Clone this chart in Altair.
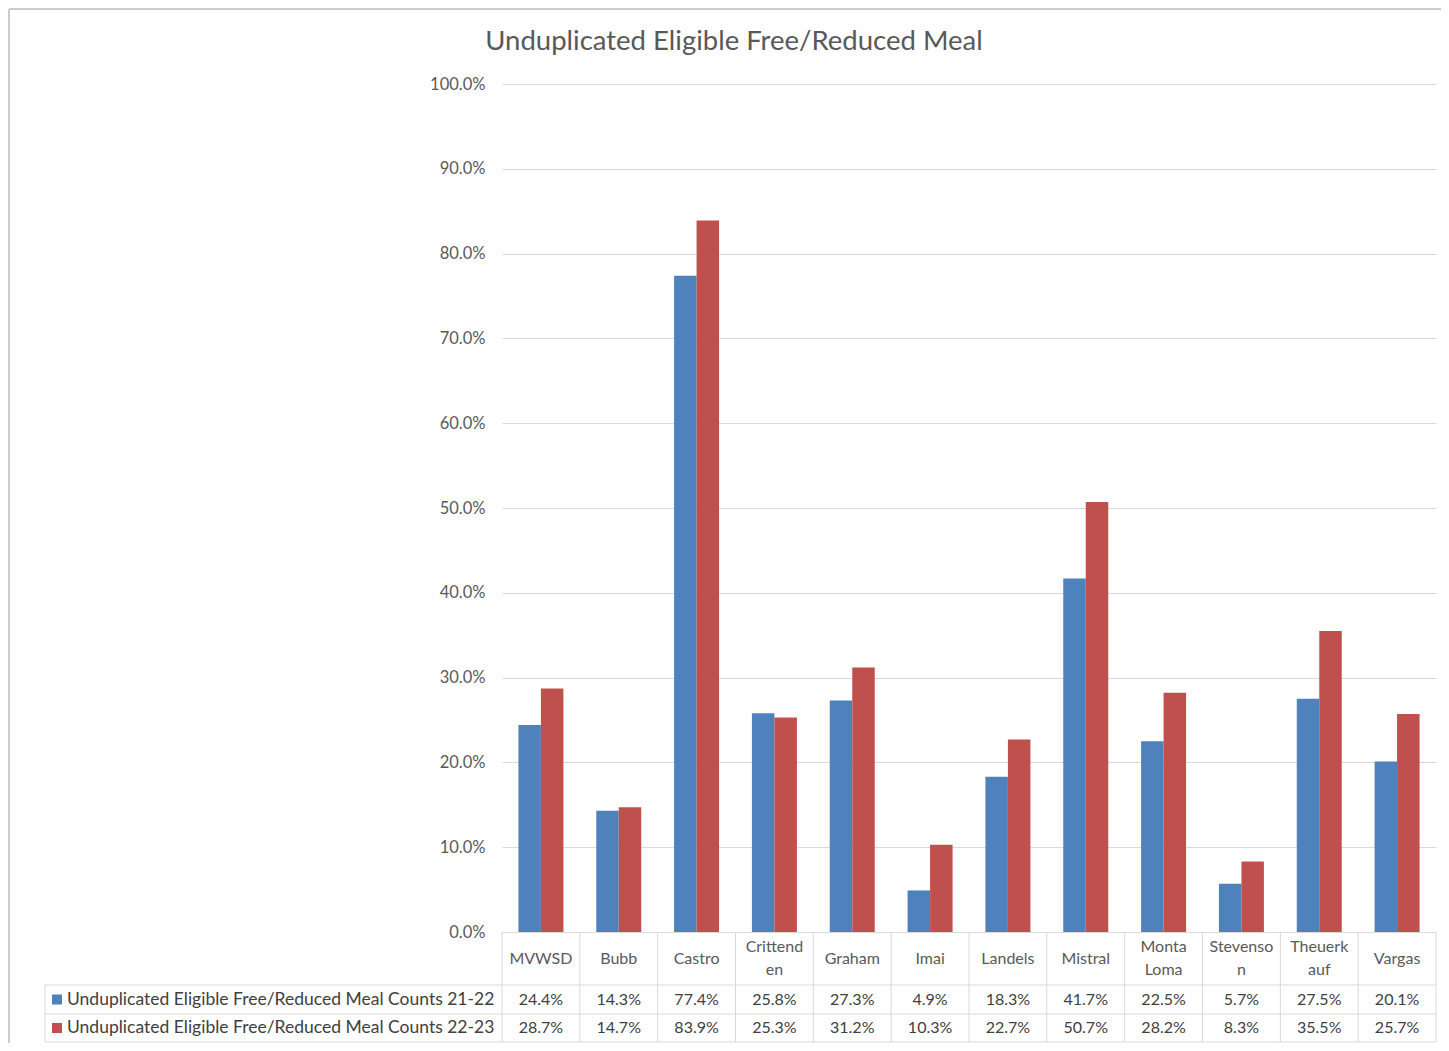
import altair as alt
import pandas as pd

categories = ["MVWSD", "Bubb", "Castro", "Crittenden", "Graham", "Imai",
              "Landels", "Mistral", "Monta Loma", "Stevenson", "Theuerkauf", "Vargas"]
header_labels = ["MVWSD", "Bubb", "Castro", "Crittend\nen", "Graham", "Imai",
                 "Landels", "Mistral", "Monta\nLoma", "Stevenso\nn", "Theuerk\nauf", "Vargas"]
series_names = ["Unduplicated Eligible Free/Reduced Meal Counts 21-22",
                "Unduplicated Eligible Free/Reduced Meal Counts 22-23"]
values_2122 = [24.4, 14.3, 77.4, 25.8, 27.3, 4.9, 18.3, 41.7, 22.5, 5.7, 27.5, 20.1]
values_2223 = [28.7, 14.7, 83.9, 25.3, 31.2, 10.3, 22.7, 50.7, 28.2, 8.3, 35.5, 25.7]
colors = ["#4F81BD", "#C0504D"]
y_ticks = [0, 0.1, 0.2, 0.3, 0.4, 0.5, 0.6, 0.7, 0.8, 0.9, 1.0]
title_text = "Unduplicated Eligible Free/Reduced Meal"

rows = []
for s, vals in zip(series_names, [values_2122, values_2223]):
    for c, v in zip(categories, vals):
        rows.append({"category": c, "series": s, "value": v / 100})
df = pd.DataFrame(rows)
hdr = pd.DataFrame({"category": categories, "header": header_labels,
                    "multi": ["\n" in h for h in header_labels]})

FONT = "Lato"
W, H = 934, 848
GRID = "#D9D9D9"
TXT = "#595959"
ROW_TOP = [H, 901, 930, 958]  # header / row1 / row2 boundaries (plot px)
LH = 23

xenc = alt.X("category:N", sort=categories,
             scale=alt.Scale(paddingInner=0, paddingOuter=0),
             axis=alt.Axis(labels=False, ticks=False, title=None, grid=False,
                           domain=True, domainColor=GRID, domainWidth=1))

base = alt.Chart(df)

bars = base.mark_bar().encode(
    x=xenc,
    xOffset=alt.XOffset("series:N", sort=series_names,
                        scale=alt.Scale(paddingOuter=0.73, paddingInner=0)),
    y=alt.Y("value:Q", scale=alt.Scale(domain=[0, 1]),
            axis=alt.Axis(values=y_ticks, format=".1%", title=None, domain=False,
                          ticks=False, labelPadding=17, labelFontSize=16.5,
                          labelColor=TXT, labelFont=FONT, gridColor=GRID)),
    color=alt.Color("series:N", sort=series_names,
                    scale=alt.Scale(domain=series_names, range=colors), legend=None),
)

layers = [bars]

# value rows
for i, s in enumerate(series_names):
    ymid = (ROW_TOP[i + 1] + ROW_TOP[i + 2]) / 2
    layers.append(
        base.transform_filter(alt.datum.series == s).mark_text(
            font=FONT, fontSize=16, color="#404040", baseline="middle", align="center"
        ).encode(x=alt.X("category:N", sort=categories), y=alt.value(ymid),
                 text=alt.Text("value:Q", format=".1%"))
    )
    layers.append(
        alt.Chart(pd.DataFrame({"series": [s]})).mark_square(size=100, opacity=1).encode(
            x=alt.value(-445), y=alt.value(ymid), color=alt.value(colors[i]))
    )
    layers.append(
        alt.Chart(pd.DataFrame({"series": [s]})).mark_text(
            font=FONT, fontSize=17.5, color="#404040", baseline="middle", align="left"
        ).encode(x=alt.value(-435), y=alt.value(ymid), text="series:N")
    )

# header
hmid = (ROW_TOP[0] + ROW_TOP[1]) / 2
layers.append(
    alt.Chart(hdr).transform_filter("!datum.multi").mark_text(
        font=FONT, fontSize=16, color=TXT, baseline="middle", align="center").encode(
        x=alt.X("category:N", sort=categories), y=alt.value(hmid), text="header:N")
)
layers.append(
    alt.Chart(hdr).transform_filter("datum.multi").mark_text(
        font=FONT, fontSize=16, color=TXT, baseline="middle", align="center",
        lineBreak="\n", lineHeight=LH).encode(
        x=alt.X("category:N", sort=categories), y=alt.value(hmid - LH / 2),
        text="header:N")
)

# table grid lines
one = pd.DataFrame({"k": [0]})
for yy in ROW_TOP[1:]:
    layers.append(alt.Chart(one).mark_rule(color=GRID, strokeWidth=1).encode(
        x=alt.value(-457), x2=alt.value(W), y=alt.value(yy)))
layers.append(alt.Chart(one).mark_rule(color=GRID, strokeWidth=1).encode(
    x=alt.value(-457), y=alt.value(ROW_TOP[1]), y2=alt.value(ROW_TOP[3])))
layers.append(alt.Chart(one).mark_rule(color=GRID, strokeWidth=1).encode(
    x=alt.value(W), y=alt.value(H), y2=alt.value(ROW_TOP[3])))
layers.append(alt.Chart(hdr).mark_rule(color=GRID, strokeWidth=1).encode(
    x=alt.X("category:N", sort=categories, bandPosition=0),
    y=alt.value(H), y2=alt.value(ROW_TOP[3])))

# title
layers.append(alt.Chart(one).mark_text(font=FONT, fontSize=27.5, color=TXT,
                                       align="center", baseline="alphabetic").encode(
    x=alt.value(232), y=alt.value(-34), text=alt.value(title_text)))

# outer chart border
layers.append(alt.Chart(one).mark_rule(color="#CCCCCC", strokeWidth=2).encode(
    x=alt.value(-493), x2=alt.value(W + 5), y=alt.value(-75)))
layers.append(alt.Chart(one).mark_rule(color="#CCCCCC", strokeWidth=2).encode(
    x=alt.value(-493), y=alt.value(-75), y2=alt.value(H + 120)))

chart = alt.layer(*layers).properties(
    width=W, height=H,
    background="white",
    autosize=alt.AutoSizeParams(type="none"),
    padding={"left": 494, "top": 76, "right": 5, "bottom": 111},
).configure_view(stroke="transparent", strokeWidth=0)

chart.save("out.html", embed_options={"renderer": "svg", "actions": False})
